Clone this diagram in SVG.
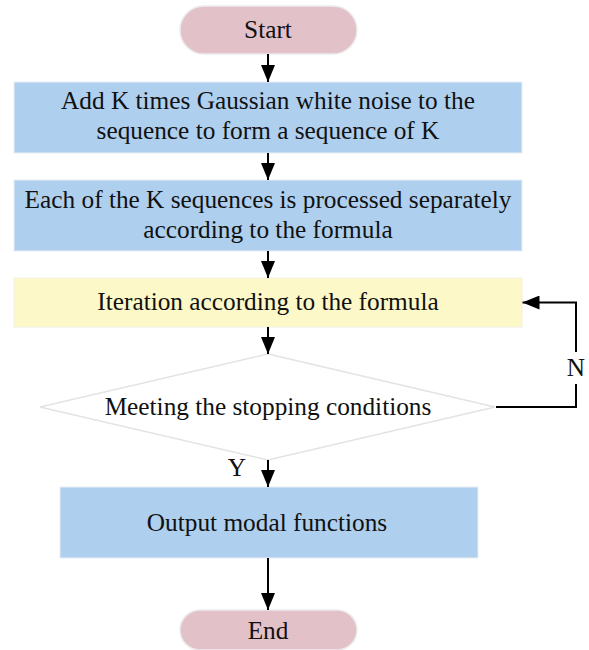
<svg xmlns="http://www.w3.org/2000/svg" width="589" height="650" viewBox="0 0 589 650">
<defs>
<marker id="ah" markerWidth="17" markerHeight="14" refX="17" refY="7" orient="auto" markerUnits="userSpaceOnUse">
<path d="M0,0 L17,7 L0,14 Z" fill="#000"/>
</marker>
<style>
.t{font-family:"Liberation Serif","Times New Roman",serif;font-size:25.3px;fill:#111;text-anchor:middle}
.term{fill:#e2c1c8;stroke:#ebebeb;stroke-width:1.5}
.blue{fill:#aecfee;stroke:#e8eef5;stroke-width:1}
.yel{fill:#fcf8c8;stroke:#f0f0e0;stroke-width:1}
.dia{fill:#fff;stroke:#e3e3e3;stroke-width:1.5}
.c{fill:none;stroke:#000;stroke-width:2;marker-end:url(#ah)}
.c2{fill:none;stroke:#000;stroke-width:2}
</style>
</defs>
<rect width="589" height="650" fill="#fff"/>
<g id="start">
<rect class="term" x="180" y="6" width="177" height="48" rx="24"/>
<text class="t" x="268" y="38">Start</text>
</g>
<g id="step1">
<rect class="blue" x="14" y="82" width="508" height="71"/>
<text class="t" x="268" y="109">Add K times Gaussian white noise to the</text>
<text class="t" x="268" y="139">sequence to form a sequence of K</text>
</g>
<g id="step2">
<rect class="blue" x="14" y="180" width="508" height="71"/>
<text class="t" x="268" y="208">Each of the K sequences is processed separately</text>
<text class="t" x="268" y="238">according to the formula</text>
</g>
<g id="iterate">
<rect class="yel" x="14" y="278" width="508" height="49"/>
<text class="t" x="268" y="310">Iteration according to the formula</text>
</g>
<g id="decision">
<polygon class="dia" points="268,354 495,407 268,460 40,407"/>
<text class="t" x="268" y="415">Meeting the stopping conditions</text>
</g>
<g id="output">
<rect class="blue" x="60" y="487" width="418" height="71"/>
<text class="t" x="267" y="531">Output modal functions</text>
</g>
<g id="end">
<rect class="term" x="180" y="610" width="177" height="40" rx="20"/>
<text class="t" x="268" y="639">End</text>
</g>
<g id="connectors">
<line class="c" x1="268" y1="54" x2="268" y2="82"/>
<line class="c" x1="268" y1="153" x2="268" y2="180"/>
<line class="c" x1="268" y1="251" x2="268" y2="278"/>
<line class="c" x1="268" y1="327" x2="268" y2="354"/>
<line class="c" x1="268" y1="460" x2="268" y2="487"/>
<line class="c" x1="268" y1="558" x2="268" y2="610"/>
<polyline class="c2" points="496,407 576,407 576,384"/>
<polyline class="c" points="576,352 576,302.5 522.5,302.5"/>
<text class="t" x="576" y="376">N</text>
<text class="t" x="237" y="476">Y</text>
</g>
</svg>
